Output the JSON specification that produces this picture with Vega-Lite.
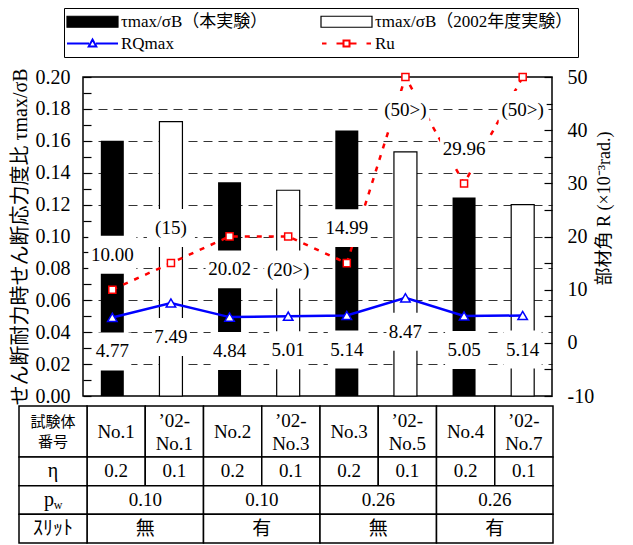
{
  "$schema": "https://vega.github.io/schema/vega-lite/v6.json",
  "width": 469,
  "height": 319,
  "padding": {"left": 10, "top": 7, "right": 5, "bottom": 3},
  "config": {
    "view": {"stroke": "black", "strokeWidth": 1.5},
    "font": "Liberation Serif",
    "text": {"font": "Liberation Serif", "fontSize": 19, "color": "black"}
  },
  "datasets": {
    "spec": [
      {"spec": "No.1", "exp": "τmax/σB（本実験）", "tau": 0.160, "RQ": 4.77, "Ru": 10.00, "RQlab": "4.77", "Rulab": "10.00"},
      {"spec": "’02-No.1", "exp": "τmax/σB（2002年度実験）", "tau": 0.172, "RQ": 7.49, "Ru": 15, "RQlab": "7.49", "Rulab": "(15)"},
      {"spec": "No.2", "exp": "τmax/σB（本実験）", "tau": 0.134, "RQ": 4.84, "Ru": 20.02, "RQlab": "4.84", "Rulab": "20.02"},
      {"spec": "’02-No.3", "exp": "τmax/σB（2002年度実験）", "tau": 0.129, "RQ": 5.01, "Ru": 20, "RQlab": "5.01", "Rulab": "(20>)"},
      {"spec": "No.3", "exp": "τmax/σB（本実験）", "tau": 0.1665, "RQ": 5.14, "Ru": 14.99, "RQlab": "5.14", "Rulab": "14.99"},
      {"spec": "’02-No.5", "exp": "τmax/σB（2002年度実験）", "tau": 0.153, "RQ": 8.47, "Ru": 50, "RQlab": "8.47", "Rulab": "(50>)"},
      {"spec": "No.4", "exp": "τmax/σB（本実験）", "tau": 0.1245, "RQ": 5.05, "Ru": 29.96, "RQlab": "5.05", "Rulab": "29.96"},
      {"spec": "’02-No.7", "exp": "τmax/σB（2002年度実験）", "tau": 0.120, "RQ": 5.14, "Ru": 50, "RQlab": "5.14", "Rulab": "(50>)"}
    ],
    "header": [
      {"row": "試験体番号", "col": "No.1", "text": "No.1"},
      {"row": "試験体番号", "col": "’02-No.1", "text": "’02-\nNo.1"},
      {"row": "試験体番号", "col": "No.2", "text": "No.2"},
      {"row": "試験体番号", "col": "’02-No.3", "text": "’02-\nNo.3"},
      {"row": "試験体番号", "col": "No.3", "text": "No.3"},
      {"row": "試験体番号", "col": "’02-No.5", "text": "’02-\nNo.5"},
      {"row": "試験体番号", "col": "No.4", "text": "No.4"},
      {"row": "試験体番号", "col": "’02-No.7", "text": "’02-\nNo.7"}
    ],
    "eta": [
      {"row": "η", "col": "No.1", "text": "0.2"},
      {"row": "η", "col": "’02-No.1", "text": "0.1"},
      {"row": "η", "col": "No.2", "text": "0.2"},
      {"row": "η", "col": "’02-No.3", "text": "0.1"},
      {"row": "η", "col": "No.3", "text": "0.2"},
      {"row": "η", "col": "’02-No.5", "text": "0.1"},
      {"row": "η", "col": "No.4", "text": "0.2"},
      {"row": "η", "col": "’02-No.7", "text": "0.1"}
    ],
    "groups": [
      {"row": "pw", "grp": "No.1・’02-No.1", "text": "0.10"},
      {"row": "pw", "grp": "No.2・’02-No.3", "text": "0.10"},
      {"row": "pw", "grp": "No.3・’02-No.5", "text": "0.26"},
      {"row": "pw", "grp": "No.4・’02-No.7", "text": "0.26"},
      {"row": "ｽﾘｯﾄ", "grp": "No.1・’02-No.1", "text": "無"},
      {"row": "ｽﾘｯﾄ", "grp": "No.2・’02-No.3", "text": "有"},
      {"row": "ｽﾘｯﾄ", "grp": "No.3・’02-No.5", "text": "無"},
      {"row": "ｽﾘｯﾄ", "grp": "No.4・’02-No.7", "text": "有"}
    ],
    "rowlab": [
      {"row": "試験体番号", "text": "試験体\n番号"},
      {"row": "η", "text": "η"},
      {"row": "pw", "text": "p"},
      {"row": "ｽﾘｯﾄ", "text": "ｽﾘｯﾄ"}
    ]
  },
  "resolve": {
    "scale": {"x": "independent", "y": "independent"},
    "axis": {"x": "independent", "y": "independent"}
  },
  "layer": [
    {
      "data": {"name": "spec"},
      "transform": [{"filter": "datum.exp == 'τmax/σB（本実験）'"}],
      "mark": {"type": "bar", "width": 23},
      "encoding": {
        "x": {"field": "spec", "type": "nominal", "scale": {"type": "band", "domain": ["No.1", "’02-No.1", "No.2", "’02-No.3", "No.3", "’02-No.5", "No.4", "’02-No.7"], "paddingInner": 0, "paddingOuter": 0}, "axis": null},
        "y": {"field": "tau", "type": "quantitative", "scale": {"domain": [0, 0.2], "nice": false},
          "axis": {"orient": "left", "values": [0, 0.01, 0.02, 0.03, 0.04, 0.05, 0.06, 0.07, 0.08, 0.09, 0.1, 0.11, 0.12, 0.13, 0.14, 0.15, 0.16, 0.17, 0.18, 0.19, 0.2],
            "labelExpr": "round(datum.value*100) % 2 == 0 ? format(datum.value, '.2f') : ''",
            "grid": false, "domain": false, "tickSize": -8, "tickColor": "black", "tickWidth": 1.2,
            "labelPadding": 21, "labelFontSize": 20, "labelFont": "Liberation Serif", "labelColor": "black",
            "labelFlush": false, "labelOverlap": false, "labelBound": false,
            "title": "せん断耐力時せん断応力度比 τmax/σB", "titleFont": "Liberation Serif, Noto Sans CJK JP", "titleFontSize": 20,
            "titleFontWeight": "normal", "titleColor": "black", "titlePadding": 5}},
        "fill": {"field": "exp", "type": "nominal",
          "scale": {"domain": ["τmax/σB（本実験）", "τmax/σB（2002年度実験）", "RQmax", "Ru"], "range": ["black", "white", "white", "white"]},
          "legend": {
            "orient": "none", "legendX": -19, "legendY": -69, "columns": 2, "direction": "horizontal", "title": null,
            "symbolSize": 400, "symbolOffset": 15, "labelOffset": 20,
            "symbolType": {"expr": "datum.value == 'RQmax' ? 'M-2.55,0H-0.35M0.35,0H2.55M0,-0.4L0.38,0.3L-0.38,0.3Z' : datum.value == 'Ru' ? 'M-2.45,0H-2.0M-1.0,0H-0.3M-0.3,-0.3H0.3V0.3H-0.3ZM0.3,0H1.0M2.0,0H2.45' : 'M-2.55,-0.55H2.55V0.55H-2.55Z'"},
            "symbolStrokeColor": {"expr": "datum.value == 'RQmax' ? 'blue' : datum.value == 'Ru' ? 'red' : 'black'"},
            "symbolStrokeWidth": {"expr": "datum.value == 'RQmax' || datum.value == 'Ru' ? 2 : 1.2"},
            "labelFont": "Liberation Serif, Noto Sans CJK JP", "labelFontSize": 17, "labelColor": "black", "labelLimit": 400,
            "columnPadding": 50, "rowPadding": 4, "padding": 5, "strokeColor": "black", "fillColor": "white",
            "encode": {"legend": {"stroke": {"value": "black"}, "strokeWidth": {"value": 1.5}}}
          }}
      }
    },
    {
      "data": {"name": "spec"},
      "transform": [{"filter": "datum.exp == 'τmax/σB（2002年度実験）'"}],
      "mark": {"type": "bar", "width": 23, "fill": "white", "stroke": "black", "strokeWidth": 1.2},
      "encoding": {
        "x": {"field": "spec", "type": "nominal", "scale": {"type": "band", "domain": ["No.1", "’02-No.1", "No.2", "’02-No.3", "No.3", "’02-No.5", "No.4", "’02-No.7"], "paddingInner": 0, "paddingOuter": 0}, "axis": null},
        "y": {"field": "tau", "type": "quantitative", "scale": {"domain": [0, 0.2], "nice": false},
          "axis": {"orient": "left", "values": [0.02, 0.04, 0.06, 0.08, 0.1, 0.12, 0.14, 0.16, 0.18], "grid": true, "gridDash": [9, 6], "gridColor": "black", "gridWidth": 0.8,
            "labels": false, "ticks": false, "domain": false, "title": null}}
      }
    },
    {
      "data": {"name": "spec"},
      "mark": {"type": "line", "stroke": "blue", "strokeWidth": 2.5},
      "encoding": {
        "x": {"field": "spec", "type": "nominal", "scale": {"type": "band", "domain": ["No.1", "’02-No.1", "No.2", "’02-No.3", "No.3", "’02-No.5", "No.4", "’02-No.7"], "paddingInner": 0, "paddingOuter": 0}, "axis": null},
        "y": {"field": "RQ", "type": "quantitative", "scale": {"domain": [-10, 50], "nice": false, "zero": false},
          "axis": {"orient": "right", "values": [-10, -5, 0, 5, 10, 15, 20, 25, 30, 35, 40, 45, 50],
            "labelExpr": "datum.value % 10 == 0 ? toString(datum.value) : ''",
            "grid": false, "domain": false, "tickSize": -8, "tickColor": "black", "tickWidth": 1.2,
            "labelPadding": 23, "labelFontSize": 20, "labelFont": "Liberation Serif", "labelColor": "black",
            "labelFlush": false, "labelOverlap": false, "labelBound": false,
            "title": "部材角 R (×10⁻³rad.)", "titleFont": "Liberation Serif, Noto Sans CJK JP", "titleFontSize": 18,
            "titleFontWeight": "normal", "titleColor": "black", "titleAngle": 270, "titlePadding": 20, "titleY": 131, "titleAlign": "center"}}
      }
    },
    {
      "data": {"name": "spec"},
      "mark": {"type": "point", "shape": "triangle-up", "size": 90, "filled": true, "fill": "white", "stroke": "blue", "strokeWidth": 1.5, "opacity": 1},
      "encoding": {
        "x": {"field": "spec", "type": "nominal", "scale": {"type": "band", "domain": ["No.1", "’02-No.1", "No.2", "’02-No.3", "No.3", "’02-No.5", "No.4", "’02-No.7"], "paddingInner": 0, "paddingOuter": 0}, "axis": null},
        "y": {"field": "RQ", "type": "quantitative", "scale": {"domain": [-10, 50], "nice": false, "zero": false}, "axis": null}
      }
    },
    {
      "data": {"name": "spec"},
      "mark": {"type": "line", "stroke": "red", "strokeWidth": 2.5, "strokeDash": [5, 7]},
      "encoding": {
        "x": {"field": "spec", "type": "nominal", "scale": {"type": "band", "domain": ["No.1", "’02-No.1", "No.2", "’02-No.3", "No.3", "’02-No.5", "No.4", "’02-No.7"], "paddingInner": 0, "paddingOuter": 0}, "axis": null},
        "y": {"field": "Ru", "type": "quantitative", "scale": {"domain": [-10, 50], "nice": false, "zero": false}, "axis": null}
      }
    },
    {
      "data": {"name": "spec"},
      "mark": {"type": "point", "shape": "square", "size": 50, "filled": true, "fill": "white", "stroke": "red", "strokeWidth": 1.5, "opacity": 1},
      "encoding": {
        "x": {"field": "spec", "type": "nominal", "scale": {"type": "band", "domain": ["No.1", "’02-No.1", "No.2", "’02-No.3", "No.3", "’02-No.5", "No.4", "’02-No.7"], "paddingInner": 0, "paddingOuter": 0}, "axis": null},
        "y": {"field": "Ru", "type": "quantitative", "scale": {"domain": [-10, 50], "nice": false, "zero": false}, "axis": null}
      }
    },
    {
      "data": {"name": "spec"},
      "mark": {"type": "point", "shape": "square", "size": 1444, "filled": true, "fill": "white", "strokeWidth": 0, "opacity": 1, "yOffset": 34},
      "encoding": {
        "x": {"field": "spec", "type": "nominal", "scale": {"type": "band", "domain": ["No.1", "’02-No.1", "No.2", "’02-No.3", "No.3", "’02-No.5", "No.4", "’02-No.7"], "paddingInner": 0, "paddingOuter": 0}, "axis": null},
        "y": {"field": "RQ", "type": "quantitative", "scale": {"domain": [-10, 50], "nice": false, "zero": false}, "axis": null}
      }
    },
    {
      "data": {"name": "spec"},
      "transform": [{"filter": "indexof(['No.2', '’02-No.3', '’02-No.5', '’02-No.7'], datum.spec) < 0"}],
      "mark": {"type": "point", "shape": "M-1,-0.79H1V0.79H-1Z", "size": 2304, "filled": true, "fill": "white", "strokeWidth": 0, "opacity": 1, "yOffset": -35},
      "encoding": {
        "x": {"field": "spec", "type": "nominal", "scale": {"type": "band", "domain": ["No.1", "’02-No.1", "No.2", "’02-No.3", "No.3", "’02-No.5", "No.4", "’02-No.7"], "paddingInner": 0, "paddingOuter": 0}, "axis": null},
        "y": {"field": "Ru", "type": "quantitative", "scale": {"domain": [-10, 50], "nice": false, "zero": false}, "axis": null}
      }
    },
    {
      "data": {"name": "spec"},
      "transform": [{"filter": "indexof(['No.2', '’02-No.3', '’02-No.5', '’02-No.7'], datum.spec) >= 0"}],
      "mark": {"type": "point", "shape": "M-1,-0.79H1V0.79H-1Z", "size": 2304, "filled": true, "fill": "white", "strokeWidth": 0, "opacity": 1, "yOffset": 33},
      "encoding": {
        "x": {"field": "spec", "type": "nominal", "scale": {"type": "band", "domain": ["No.1", "’02-No.1", "No.2", "’02-No.3", "No.3", "’02-No.5", "No.4", "’02-No.7"], "paddingInner": 0, "paddingOuter": 0}, "axis": null},
        "y": {"field": "Ru", "type": "quantitative", "scale": {"domain": [-10, 50], "nice": false, "zero": false}, "axis": null}
      }
    },
    {
      "data": {"name": "spec"},
      "mark": {"type": "text", "baseline": "middle", "align": "center", "dy": 34, "fontSize": 19},
      "encoding": {
        "x": {"field": "spec", "type": "nominal", "scale": {"type": "band", "domain": ["No.1", "’02-No.1", "No.2", "’02-No.3", "No.3", "’02-No.5", "No.4", "’02-No.7"], "paddingInner": 0, "paddingOuter": 0}, "axis": null},
        "y": {"field": "RQ", "type": "quantitative", "scale": {"domain": [-10, 50], "nice": false, "zero": false}, "axis": null},
        "text": {"field": "RQlab"}
      }
    },
    {
      "data": {"name": "spec"},
      "transform": [{"filter": "indexof(['No.2', '’02-No.3', '’02-No.5', '’02-No.7'], datum.spec) < 0"}],
      "mark": {"type": "text", "baseline": "middle", "align": "center", "dy": -35, "fontSize": 19},
      "encoding": {
        "x": {"field": "spec", "type": "nominal", "scale": {"type": "band", "domain": ["No.1", "’02-No.1", "No.2", "’02-No.3", "No.3", "’02-No.5", "No.4", "’02-No.7"], "paddingInner": 0, "paddingOuter": 0}, "axis": null},
        "y": {"field": "Ru", "type": "quantitative", "scale": {"domain": [-10, 50], "nice": false, "zero": false}, "axis": null},
        "text": {"field": "Rulab"}
      }
    },
    {
      "data": {"name": "spec"},
      "transform": [{"filter": "indexof(['No.2', '’02-No.3', '’02-No.5', '’02-No.7'], datum.spec) >= 0"}],
      "mark": {"type": "text", "baseline": "middle", "align": "center", "dy": 33, "fontSize": 19},
      "encoding": {
        "x": {"field": "spec", "type": "nominal", "scale": {"type": "band", "domain": ["No.1", "’02-No.1", "No.2", "’02-No.3", "No.3", "’02-No.5", "No.4", "’02-No.7"], "paddingInner": 0, "paddingOuter": 0}, "axis": null},
        "y": {"field": "Ru", "type": "quantitative", "scale": {"domain": [-10, 50], "nice": false, "zero": false}, "axis": null},
        "text": {"field": "Rulab"}
      }
    },
    {
      "data": {"name": "header"},
      "mark": {"type": "rect", "fill": "white", "stroke": "black", "strokeWidth": 1.5},
      "encoding": {
        "x": {"field": "col", "type": "nominal", "scale": {"type": "band", "domain": ["No.1", "’02-No.1", "No.2", "’02-No.3", "No.3", "’02-No.5", "No.4", "’02-No.7"], "range": [4, 470], "paddingInner": 0, "paddingOuter": 0}, "axis": null},
        "y": {"field": "row", "type": "nominal", "scale": {"type": "band", "domain": ["試験体番号"], "range": [329, 380], "paddingInner": 0, "paddingOuter": 0}, "axis": null}
      }
    },
    {
      "data": {"name": "header"},
      "transform": [{"filter": "indexof(datum.text, '-') < 0"}],
      "mark": {"type": "text", "baseline": "middle", "align": "center", "fontSize": 19},
      "encoding": {
        "x": {"field": "col", "type": "nominal", "scale": {"type": "band", "domain": ["No.1", "’02-No.1", "No.2", "’02-No.3", "No.3", "’02-No.5", "No.4", "’02-No.7"], "range": [4, 470], "paddingInner": 0, "paddingOuter": 0}, "axis": null},
        "y": {"field": "row", "type": "nominal", "scale": {"type": "band", "domain": ["試験体番号"], "range": [329, 380], "paddingInner": 0, "paddingOuter": 0}, "axis": null},
        "text": {"field": "text"}
      }
    },
    {
      "data": {"name": "header"},
      "transform": [{"filter": "indexof(datum.text, '-') >= 0"}],
      "mark": {"type": "text", "baseline": "middle", "align": "center", "lineBreak": "\n", "lineHeight": 23, "fontSize": 19, "dy": -11},
      "encoding": {
        "x": {"field": "col", "type": "nominal", "scale": {"type": "band", "domain": ["No.1", "’02-No.1", "No.2", "’02-No.3", "No.3", "’02-No.5", "No.4", "’02-No.7"], "range": [4, 470], "paddingInner": 0, "paddingOuter": 0}, "axis": null},
        "y": {"field": "row", "type": "nominal", "scale": {"type": "band", "domain": ["試験体番号"], "range": [329, 380], "paddingInner": 0, "paddingOuter": 0}, "axis": null},
        "text": {"field": "text"}
      }
    },
    {
      "data": {"name": "eta"},
      "mark": {"type": "rect", "fill": "white", "stroke": "black", "strokeWidth": 1.5},
      "encoding": {
        "x": {"field": "col", "type": "nominal", "scale": {"type": "band", "domain": ["No.1", "’02-No.1", "No.2", "’02-No.3", "No.3", "’02-No.5", "No.4", "’02-No.7"], "range": [4, 470], "paddingInner": 0, "paddingOuter": 0}, "axis": null},
        "y": {"field": "row", "type": "nominal", "scale": {"type": "band", "domain": ["η", "pw", "ｽﾘｯﾄ"], "range": [380, 466], "paddingInner": 0, "paddingOuter": 0}, "axis": null}
      }
    },
    {
      "data": {"name": "eta"},
      "mark": {"type": "text", "baseline": "middle", "align": "center", "fontSize": 19},
      "encoding": {
        "x": {"field": "col", "type": "nominal", "scale": {"type": "band", "domain": ["No.1", "’02-No.1", "No.2", "’02-No.3", "No.3", "’02-No.5", "No.4", "’02-No.7"], "range": [4, 470], "paddingInner": 0, "paddingOuter": 0}, "axis": null},
        "y": {"field": "row", "type": "nominal", "scale": {"type": "band", "domain": ["η", "pw", "ｽﾘｯﾄ"], "range": [380, 466], "paddingInner": 0, "paddingOuter": 0}, "axis": null},
        "text": {"field": "text"}
      }
    },
    {
      "data": {"name": "groups"},
      "mark": {"type": "rect", "fill": "white", "stroke": "black", "strokeWidth": 1.5},
      "encoding": {
        "x": {"field": "grp", "type": "nominal", "scale": {"type": "band", "domain": ["No.1・’02-No.1", "No.2・’02-No.3", "No.3・’02-No.5", "No.4・’02-No.7"], "range": [4, 470], "paddingInner": 0, "paddingOuter": 0}, "axis": null},
        "y": {"field": "row", "type": "nominal", "scale": {"type": "band", "domain": ["η", "pw", "ｽﾘｯﾄ"], "range": [380, 466], "paddingInner": 0, "paddingOuter": 0}, "axis": null}
      }
    },
    {
      "data": {"name": "groups"},
      "mark": {"type": "text", "baseline": "middle", "align": "center", "fontSize": 19, "font": "Liberation Serif, Noto Sans CJK JP"},
      "encoding": {
        "x": {"field": "grp", "type": "nominal", "scale": {"type": "band", "domain": ["No.1・’02-No.1", "No.2・’02-No.3", "No.3・’02-No.5", "No.4・’02-No.7"], "range": [4, 470], "paddingInner": 0, "paddingOuter": 0}, "axis": null},
        "y": {"field": "row", "type": "nominal", "scale": {"type": "band", "domain": ["η", "pw", "ｽﾘｯﾄ"], "range": [380, 466], "paddingInner": 0, "paddingOuter": 0}, "axis": null},
        "text": {"field": "text"}
      }
    },
    {
      "data": {"name": "rowlab"},
      "transform": [{"filter": "datum.row == '試験体番号'"}],
      "layer": [
        {"mark": {"type": "rect", "fill": "white", "stroke": "black", "strokeWidth": 1.5}},
        {"mark": {"type": "text", "baseline": "middle", "align": "center", "lineBreak": "\n", "lineHeight": 20, "fontSize": 15, "font": "Noto Sans CJK JP", "dy": -10},
         "encoding": {"text": {"field": "text"}}}
      ],
      "encoding": {
        "x": {"datum": "項目", "type": "nominal", "scale": {"type": "band", "domain": ["項目"], "range": [-64, 4], "paddingInner": 0, "paddingOuter": 0}, "axis": null},
        "y": {"field": "row", "type": "nominal", "scale": {"type": "band", "domain": ["試験体番号"], "range": [329, 380], "paddingInner": 0, "paddingOuter": 0}, "axis": null}
      }
    },
    {
      "data": {"name": "rowlab"},
      "transform": [{"filter": "datum.row != '試験体番号'"}],
      "layer": [
        {"mark": {"type": "rect", "fill": "white", "stroke": "black", "strokeWidth": 1.5}},
        {"transform": [{"filter": "datum.row != 'pw'"}],
         "mark": {"type": "text", "baseline": "middle", "align": "center", "fontSize": 20, "font": "Liberation Serif, Noto Sans CJK JP"},
         "encoding": {"text": {"field": "text"}}},
        {"transform": [{"filter": "datum.row == 'pw'"}],
         "mark": {"type": "text", "baseline": "middle", "align": "center", "fontSize": 20, "dx": -4},
         "encoding": {"text": {"field": "text"}}},
        {"transform": [{"filter": "datum.row == 'pw'"}],
         "mark": {"type": "text", "baseline": "middle", "align": "center", "fontSize": 12, "dx": 5, "dy": 5, "text": "w"}}
      ],
      "encoding": {
        "x": {"datum": "項目", "type": "nominal", "scale": {"type": "band", "domain": ["項目"], "range": [-64, 4], "paddingInner": 0, "paddingOuter": 0}, "axis": null},
        "y": {"field": "row", "type": "nominal", "scale": {"type": "band", "domain": ["η", "pw", "ｽﾘｯﾄ"], "range": [380, 466], "paddingInner": 0, "paddingOuter": 0}, "axis": null}
      }
    }
  ]
}
